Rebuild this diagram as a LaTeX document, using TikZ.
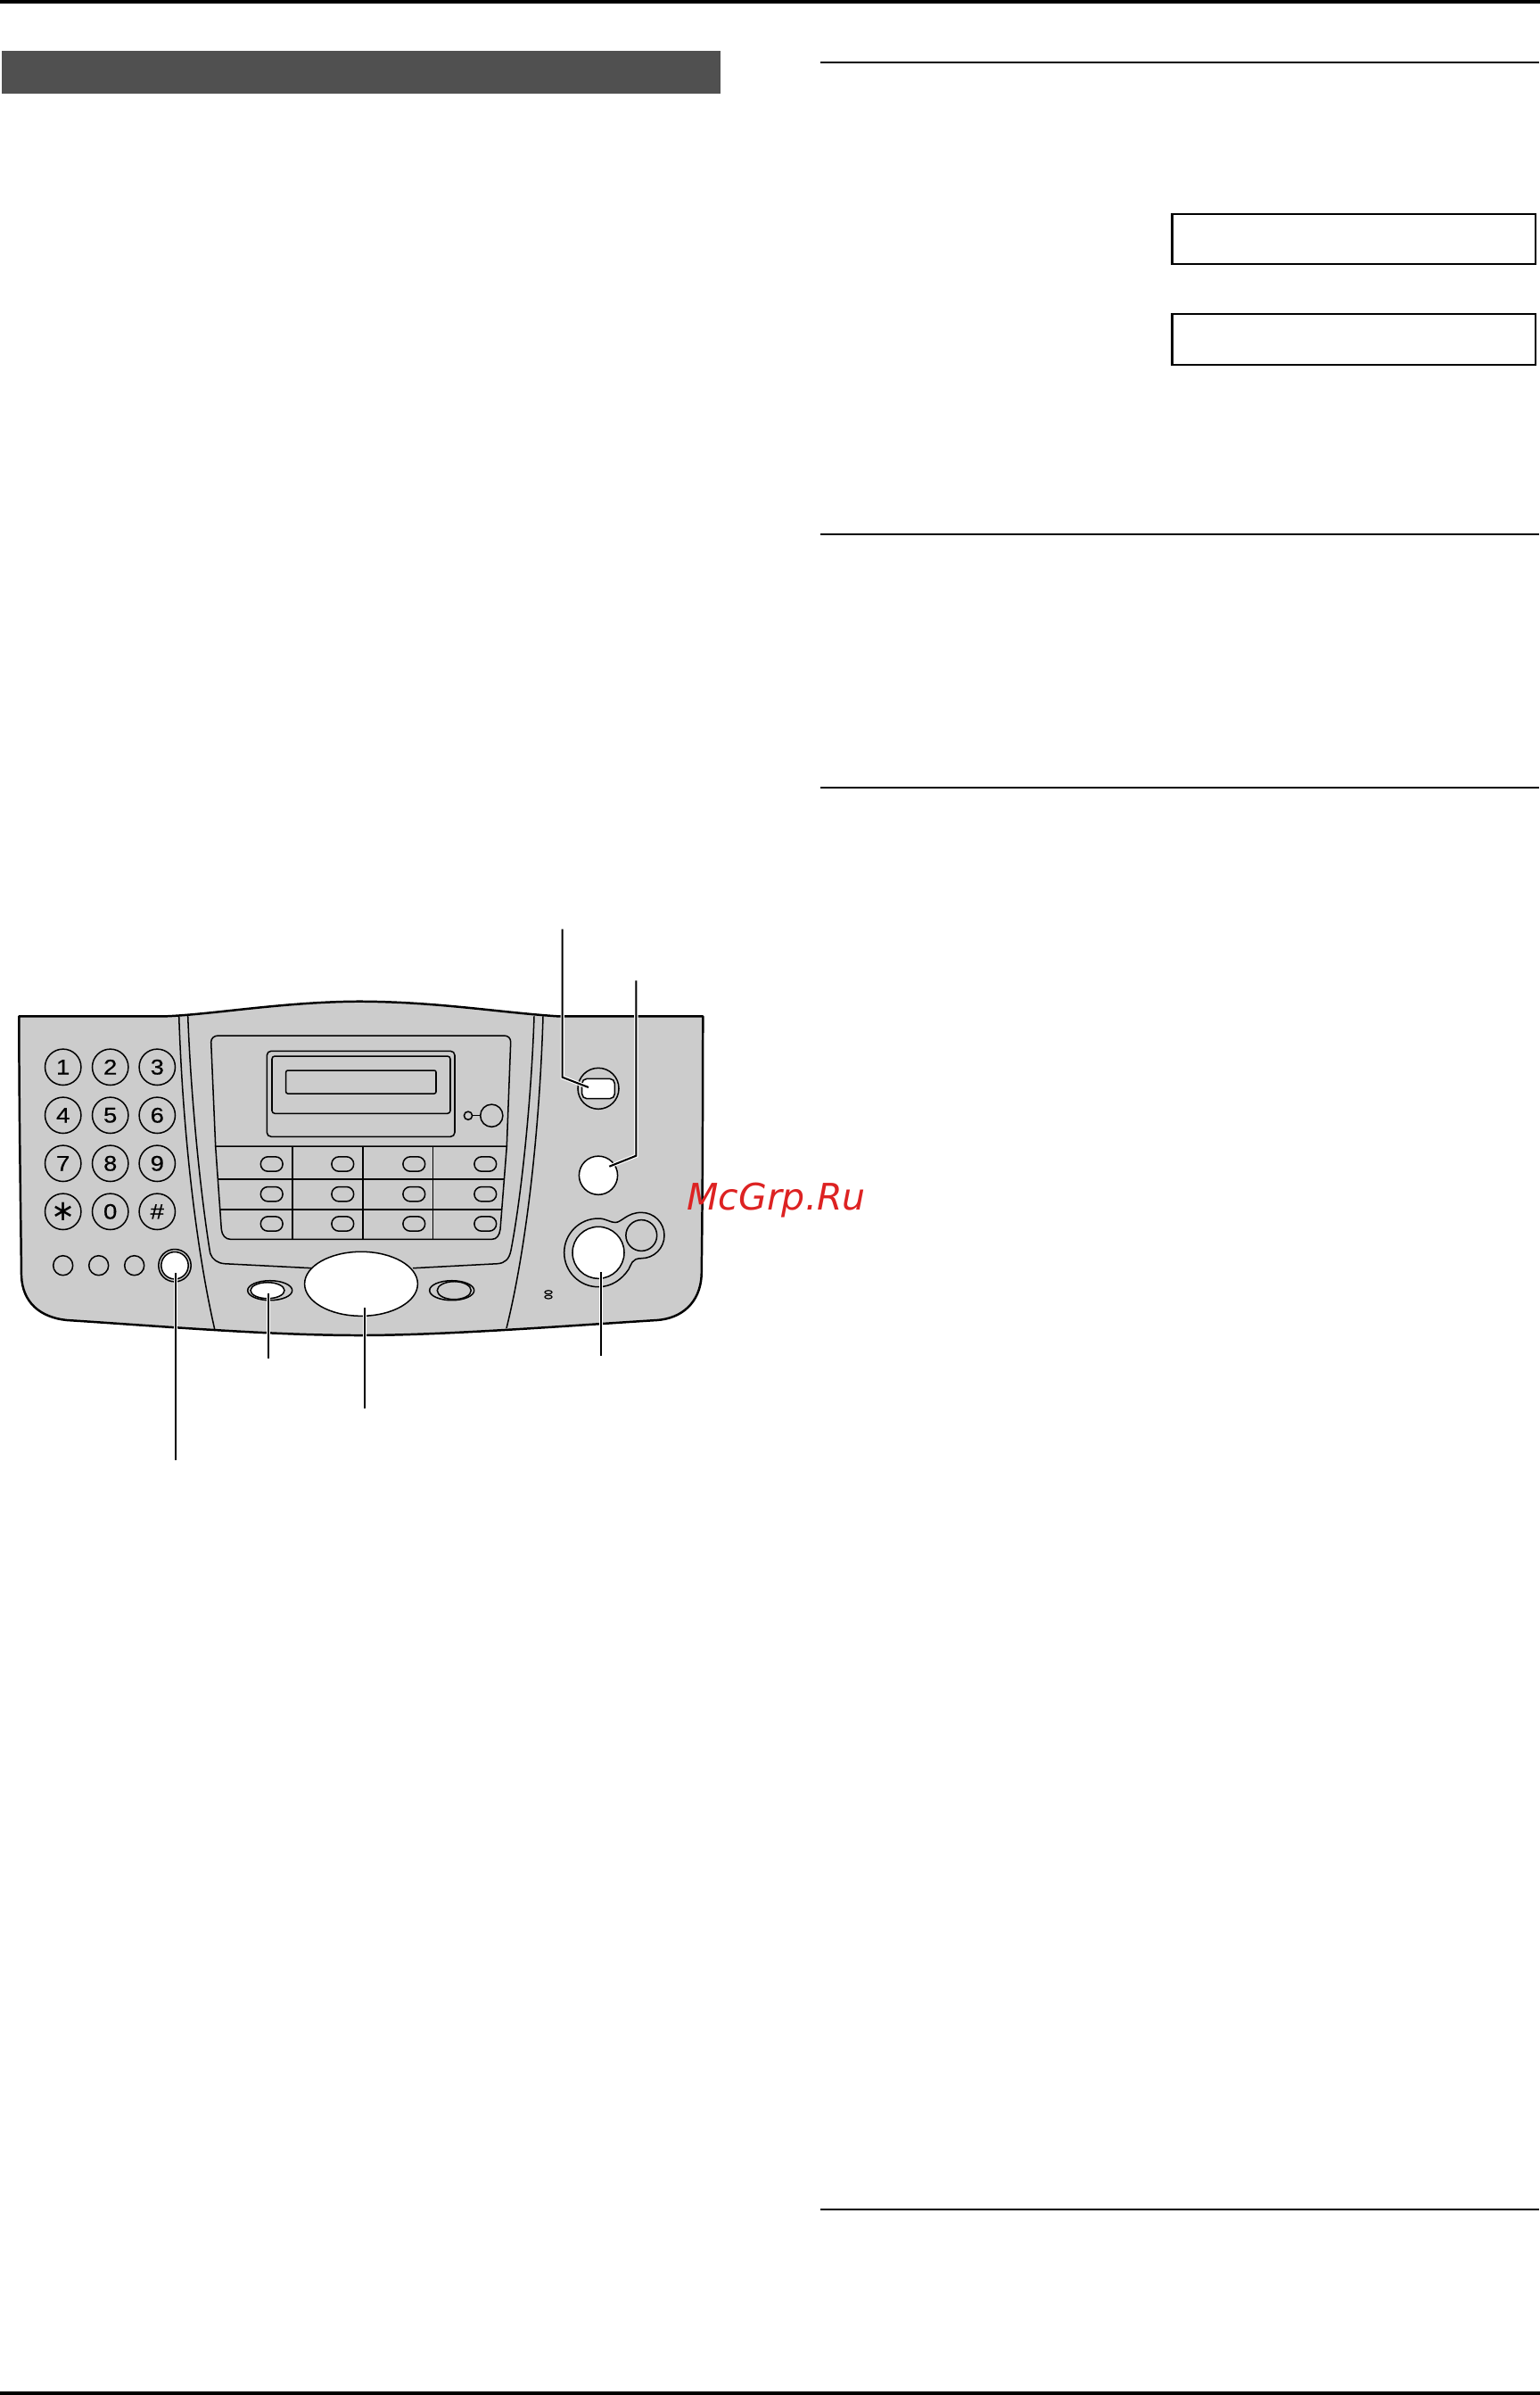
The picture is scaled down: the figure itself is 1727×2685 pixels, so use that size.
\documentclass[tikz,border=0pt]{standalone}
\usepackage{fontspec}
\newfontfamily\teclafont[FakeStretch=1.15,FakeBold=.5]{Liberation Sans}
\newfontfamily\marcafont{DejaVu Sans}
\usetikzlibrary{shapes.geometric,positioning}
\definecolor{panelgris}{HTML}{CCCCCC}
\definecolor{barragris}{HTML}{505050}
\definecolor{marcarojo}{HTML}{DD2222}
\tikzstyle{linea} = [draw=black, line width=.38mm]
\tikzstyle{regla} = [draw=black, line width=.55mm]
\tikzstyle{caja} = [draw=black, line width=.55mm, inner sep=0pt, minimum width=101.9mm]
\tikzstyle{tecla} = [linea, circle, inner sep=0pt, minimum size=10.1mm, font=\teclafont\fontsize{17pt}{17pt}\selectfont]
\tikzstyle{redondo} = [linea, circle, inner sep=0pt, minimum size=5.5mm]
\tikzstyle{boton} = [linea, circle, fill=white, inner sep=0pt]
\tikzstyle{oval} = [linea, ellipse, inner sep=0pt]
\tikzstyle{pastilla} = [linea, rectangle, rounded corners=2.05mm, inner sep=0pt, minimum width=6.2mm, minimum height=4.1mm]
\tikzstyle{guia} = [draw=black, line width=.52mm, preaction={draw=white, line width=1.1mm}]
\begin{document}
\begin{tikzpicture}[x=.25mm,y=-.25mm]
	\useasboundingbox (0,0) rectangle (1727,2685);
	% page rules and title bar
	\draw[draw=black, line width=1mm] (0,2) coordinate (topa) -- (1727,2) coordinate (topb);
	\draw[draw=black, line width=1mm] (0,2683) coordinate (basa) -- (1727,2683) coordinate (basb);
	\node[fill=barragris, inner sep=0pt, minimum width=201.5mm, minimum height=11.9mm] (titulo) at (405,81) {};
	\foreach \name/\y in {a/70,b/599,c/883,d/2477}
		\draw[regla] (920,\y) coordinate (regla\name) -- (1726,\y) coordinate (fin\name);
	\node[caja, minimum height=14mm] (cajauno) at (1518.2,268) {};
	\node[caja, minimum height=14.25mm] (cajados) at (1518.2,380.5) {};
	% body of the machine
	\draw[draw=black, line width=.62mm, fill=panelgris, line join=round] (21.3,1139.3) -- (186.7,1139.3)
		.. controls (240,1137) and (320,1123) .. (403,1122.7)
		.. controls (490,1123) and (560,1135) .. (625,1139.3)
		-- (788.3,1139.3)
		.. controls (788,1250) and (788,1340) .. (786.7,1430)
		.. controls (785,1460) and (765,1478) .. (736.7,1480)
		.. controls (640,1486) and (500,1497) .. (403,1497)
		.. controls (300,1497) and (170,1486) .. (75,1480)
		.. controls (45,1477) and (25,1460) .. (24,1430)
		.. controls (23,1340) and (21.5,1250) .. (21.3,1139.3) -- cycle;
	% side strips
	\draw[linea] (200.7,1139.3) .. controls (205,1270) and (220,1400) .. (240.7,1490);
	\draw[linea] (609,1139.3) .. controls (605,1270) and (590,1400) .. (568,1489);
	\draw[linea] (210.7,1139) .. controls (214,1230) and (225,1340) .. (235.7,1405)
		.. controls (238,1412) and (244,1416) .. (251.7,1416.7) -- (350,1421.7);
	\draw[linea] (599,1139.3) .. controls (596,1230) and (585,1340) .. (573,1401.7)
		.. controls (571,1412) and (566,1416) .. (558,1416.7) -- (463,1421.7);
	% display panel
	\draw[linea] (241.7,1285) -- (236.7,1168.3) .. controls (236.7,1164) and (240,1161) .. (245,1161)
		-- (565,1161) .. controls (570,1161) and (572.7,1164) .. (572.7,1168.3) -- (568.3,1285);
	\draw[linea] (241.7,1285) -- (568.3,1285) -- (561,1378.3) .. controls (560,1385) and (557,1389.3) .. (551.7,1389.3)
		-- (258.3,1389.3) .. controls (253,1389.3) and (249,1385) .. (248.3,1378.3) -- cycle;
	\draw[linea, line width=.5mm] (244,1322.3) -- (566,1322.3);
	\draw[linea, line width=.5mm] (246.7,1355.7) -- (563.3,1355.7);
	\foreach \x/\w in {327.7/.5,407/.5,485.3/.38}
		\draw[linea, line width=\w mm] (\x,1285) -- (\x,1389.3);
	\foreach \x [count=\i] in {304.7,384.3,464.3,544.3}
		\foreach \y [count=\j] in {1305,1338.7,1372}
			\node[pastilla] (mem\i\j) at (\x,\y) {};
	\draw[linea, rounded corners=1.2mm] (299.3,1178.3) rectangle (510,1274.3);
	\draw[linea, rounded corners=.8mm] (305,1184) rectangle (505,1248.3);
	\draw[linea, rounded corners=.5mm] (320.7,1200) rectangle (489,1226);
	\node[linea, circle, inner sep=0pt, minimum size=2.3mm] (lucita) at (525,1250.7) {};
	\node[linea, circle, inner sep=0pt, minimum size=6.3mm] (luz) at (551.3,1250.7) {};
	\draw[linea] (lucita) -- (luz);
	% keypad
	\foreach \txt/\x/\y in {1/70.7/1196.3,2/123.7/1196.3,3/176.3/1196.3,4/70.7/1250.3,5/123.7/1250.3,6/176.3/1250.3,7/70.7/1304.3,8/123.7/1304.3,9/176.3/1304.3,0/123.7/1358.3,\#/176.3/1358.3}
		\node[tecla] at (\x,\y) {\txt};
	\node[tecla, font=\marcafont\fontsize{23pt}{23pt}\selectfont] (asterisco) at (70.7,1358.3) {∗};
	\foreach \x [count=\i] in {70.7,110.7,150.7}
		\node[redondo] (chico\i) at (\x,1418.7) {};
	% buttons with leaders
	\node[linea, circle, inner sep=0pt, minimum size=9.1mm] (aroizq) at (196,1418.7) {};
	\node[boton, minimum size=7.6mm] (botizq) at (196,1418.7) {};
	\node[oval, minimum width=12.5mm, minimum height=5.5mm] (aromen) at (302.7,1446.7) {};
	\node[oval, fill=white, minimum width=9.5mm, minimum height=4.5mm] (botmen) at (300,1446.7) {};
	\node[oval, minimum width=12.5mm, minimum height=5.5mm] (aroset) at (506.7,1446.7) {};
	\node[oval, minimum width=9.5mm, minimum height=5mm] (botset) at (509.3,1446.7) {};
	\node[oval, fill=white, minimum width=31.7mm, minimum height=18mm] (navega) at (405,1439.3) {};
	\foreach \y [count=\i] in {1448.7,1454}
		\node[oval, line width=.3mm, minimum width=2mm, minimum height=1mm] (punto\i) at (615,\y) {};
	\node[linea, circle, inner sep=0pt, minimum size=11.5mm] (aromon) at (671,1220.3) {};
	\node[linea, fill=white, inner sep=0pt, minimum width=9.2mm, minimum height=5.6mm, rounded corners=1.4mm] (botmon) at (671,1220.5) {};
	\node[boton, minimum size=10.8mm] (botcen) at (671,1317.7) {};
	\draw[linea] (671,1366) .. controls (680,1366) and (684,1370.5) .. (690,1370.5)
		.. controls (697,1370.5) and (703,1359.3) .. (719.3,1359.3)
		.. controls (733.5,1359.3) and (745,1370.8) .. (745,1385)
		.. controls (745,1399.2) and (733.5,1410.7) .. (719.3,1410.7)
		.. controls (708,1410.7) and (708,1418) .. (705,1423)
		.. controls (697,1435) and (685,1442.7) .. (671,1442.7)
		.. controls (649.8,1442.7) and (632.7,1425.5) .. (632.7,1404.3)
		.. controls (632.7,1383.1) and (649.8,1366) .. (671,1366) -- cycle;
	\node[boton, minimum size=14.5mm] (botgra) at (671,1404.3) {};
	\node[linea, circle, inner sep=0pt, minimum size=8.7mm] (botchi) at (719.3,1385) {};
	% leader ends
	\coordinate (fa) at (196.7,1637);
	\coordinate (fb) at (300.7,1522.7);
	\coordinate (fc) at (409,1578.5);
	\coordinate (fd) at (673.7,1520);
	\coordinate (fe) at (630.7,1041.7);
	\coordinate (ff) at (713.3,1099.3);
	\draw[guia] (196.7,1427) -- (fa);
	\draw[guia] (300.7,1450) -- (fb);
	\draw[guia] (409,1466) -- (fc);
	\draw[guia] (673.7,1426) -- (fd);
	\draw[guia] (fe) -- (630.7,1207.7) -- (660,1219);
	\draw[guia] (ff) -- (713.3,1295.7) -- (683.3,1307.7);
	\node[anchor=base west, inner sep=0pt, text=marcarojo, font=\marcafont\itshape\fontsize{29.2pt}{29.2pt}\selectfont] (marca) at (770,1356.7) {McGrp.Ru};
\end{tikzpicture}
\end{document}
